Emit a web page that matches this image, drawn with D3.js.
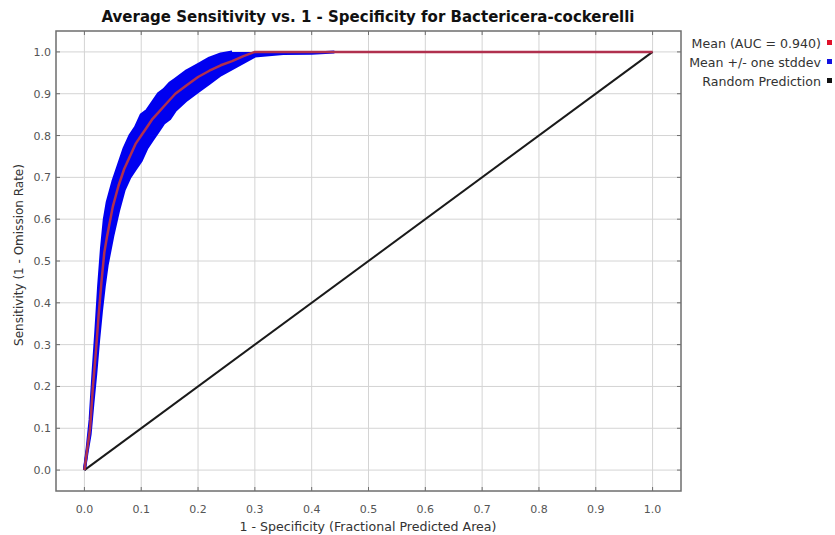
<!DOCTYPE html>
<html><head><meta charset="utf-8">
<script src="https://cdn.jsdelivr.net/npm/d3@7"></script>
<style>body{margin:0;background:#fff}svg{display:block;font-family:"DejaVu Sans",Verdana,sans-serif}</style>
</head><body>
<svg id="c" width="835" height="535"></svg>
<script>
const titleText = "Average Sensitivity vs. 1 - Specificity for Bactericera-cockerelli";
const xTitle = "1 - Specificity (Fractional Predicted Area)";
const yTitle = "Sensitivity (1 - Omission Rate)";
const tickValues = [0,0.1,0.2,0.3,0.4,0.5,0.6,0.7,0.8,0.9,1.0];
const tickLabels = ["0.0","0.1","0.2","0.3","0.4","0.5","0.6","0.7","0.8","0.9","1.0"];
const legendLabels = ["Mean (AUC = 0.940)","Mean +/- one stddev","Random Prediction"];
const legendColors = ["#e0102a","#1010e0","#111111"];

const fpr   = [0,0.005,0.01,0.015,0.02,0.025,0.03,0.035,0.04,0.05,0.06,0.07,0.08,0.09,0.10,0.11,0.12,0.13,0.14,0.15,0.16,0.18,0.20,0.22,0.24,0.26,0.28,0.30,0.35,0.40,0.44,0.50,1.0];
const meanS = [0,0.05,0.10,0.20,0.28,0.37,0.45,0.52,0.56,0.63,0.68,0.72,0.75,0.78,0.80,0.82,0.84,0.855,0.87,0.885,0.90,0.92,0.94,0.955,0.968,0.978,0.99,1.0,1.0,1.0,1.0,1.0,1.0];
const upperS= [0,0.055,0.12,0.23,0.33,0.44,0.53,0.60,0.64,0.69,0.73,0.77,0.80,0.82,0.85,0.86,0.88,0.90,0.91,0.925,0.935,0.955,0.97,0.985,0.995,1.0,1.0,1.0,1.0,1.0,1.0,1.0,1.0];
const lowerS= [0,0.045,0.085,0.16,0.23,0.31,0.38,0.44,0.49,0.56,0.62,0.67,0.70,0.72,0.74,0.77,0.79,0.81,0.83,0.84,0.86,0.885,0.905,0.925,0.945,0.96,0.975,0.99,0.996,0.997,1.0,1.0,1.0];
const randomX = [0,1];
const randomY = [0,1];

const svg = d3.select("#c");
const L=56,R=681,T=31,B=491;
const x = d3.scaleLinear().domain([-0.05,1.05]).range([L,R]);
const y = d3.scaleLinear().domain([-0.05,1.05]).range([B,T]);

// grid
const g = svg.append("g");
g.selectAll(".gx").data(tickValues).join("line")
  .attr("x1",d=>x(d)).attr("x2",d=>x(d)).attr("y1",T).attr("y2",B)
  .attr("stroke","#d4d4d4").attr("stroke-width",1);
g.selectAll(".gy").data(tickValues).join("line")
  .attr("y1",d=>y(d)).attr("y2",d=>y(d)).attr("x1",L).attr("x2",R)
  .attr("stroke","#d4d4d4").attr("stroke-width",1);

// band
const idx = d3.range(fpr.length);
const area = d3.area().x(i=>x(fpr[i])).y0(i=>y(lowerS[i])).y1(i=>y(upperS[i]));
svg.append("path").datum(idx).attr("d",area).attr("fill","#0000f0");
const lineU = d3.line().x(i=>x(fpr[i])).y(i=>y(upperS[i]));
const lineL = d3.line().x(i=>x(fpr[i])).y(i=>y(lowerS[i]));
svg.append("path").datum(idx.filter(i=>fpr[i]<=0.26)).attr("d",lineU).attr("fill","none").attr("stroke","#0000f0").attr("stroke-width",3).attr("stroke-linejoin","round");
svg.append("path").datum(idx.filter(i=>fpr[i]<=0.44)).attr("d",lineL).attr("fill","none").attr("stroke","#0000f0").attr("stroke-width",3).attr("stroke-linejoin","round");

// random
svg.append("line").attr("x1",x(randomX[0])).attr("y1",y(randomY[0])).attr("x2",x(randomX[1])).attr("y2",y(randomY[1]))
  .attr("stroke","#1a1a1a").attr("stroke-width",2);

// mean
const lineM = d3.line().x(i=>x(fpr[i])).y(i=>y(meanS[i]));
svg.append("path").datum(idx).attr("d",lineM).attr("fill","none").attr("stroke","#b0304e").attr("stroke-width",2.5).attr("stroke-linejoin","round");

// frame
svg.append("rect").attr("x",L).attr("y",T).attr("width",R-L).attr("height",B-T)
  .attr("fill","none").attr("stroke","#6e6e6e").attr("stroke-width",1.5);

// tick marks
const tk = svg.append("g").attr("stroke","#6e6e6e").attr("stroke-width",1);
tickValues.forEach(v=>{
  tk.append("line").attr("x1",x(v)).attr("x2",x(v)).attr("y1",B).attr("y2",B-4);
  tk.append("line").attr("x1",x(v)).attr("x2",x(v)).attr("y1",T).attr("y2",T+4);
  tk.append("line").attr("y1",y(v)).attr("y2",y(v)).attr("x1",L).attr("x2",L+4);
  tk.append("line").attr("y1",y(v)).attr("y2",y(v)).attr("x1",R).attr("x2",R-4);
});

// tick labels
svg.selectAll(".xl").data(tickValues).join("text")
  .attr("x",d=>x(d)).attr("y",513).attr("text-anchor","middle")
  .attr("font-size",11).attr("fill","#555").text((d,i)=>tickLabels[i]);
svg.selectAll(".yl").data(tickValues).join("text")
  .attr("x",51).attr("y",d=>y(d)+4).attr("text-anchor","end")
  .attr("font-size",11).attr("fill","#555").text((d,i)=>tickLabels[i]);

// titles
svg.append("text").attr("x",368).attr("y",22).attr("text-anchor","middle")
  .attr("font-size",15).attr("font-weight","bold").attr("fill","#111").text(titleText);
svg.append("text").attr("x",368).attr("y",531).attr("text-anchor","middle")
  .attr("font-size",12.6).attr("fill","#333").text(xTitle);
svg.append("text").attr("transform","translate(23,255) rotate(-90)").attr("text-anchor","middle")
  .attr("font-size",12).attr("fill","#333").text(yTitle);

// legend
legendLabels.forEach((t,i)=>{
  const yy = 48 + i*19;
  svg.append("text").attr("x",821).attr("y",yy).attr("text-anchor","end")
    .attr("font-size",12.6).attr("fill","#333").text(t);
  svg.append("rect").attr("x",827).attr("y",yy-8).attr("width",5).attr("height",5).attr("fill",legendColors[i]);
});
</script>
</body></html>
